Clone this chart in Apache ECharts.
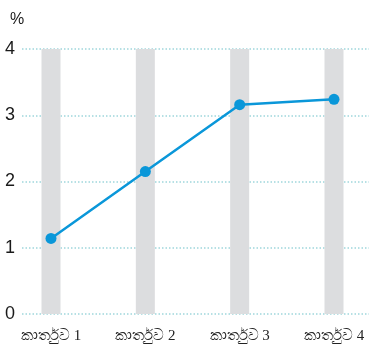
<!DOCTYPE html>
<html>
<head>
<meta charset="utf-8">
<script src="https://cdn.jsdelivr.net/npm/echarts@6/dist/echarts.min.js"></script>
<style>
  html, body { margin: 0; padding: 0; background: #fff; }
  #chart { width: 369px; height: 350px; }
</style>
</head>
<body>
<div id="chart"></div>
<script>
var categories = ['කාර්තුව 1', 'කාර්තුව 2', 'කාර්තුව 3', 'කාර්තුව 4'];
var rates = [1.14, 2.15, 3.16, 3.24];
var columnTops = [4, 4, 4, 4];
var yTicks = [0, 1, 2, 3, 4];

var myChart = echarts.init(document.getElementById('chart'));
var option = {
    backgroundColor: '#fff',
    animation: false,
    title: {
        text: '%',
        left: 5,
        top: 7,
        textStyle: { fontSize: 16, fontWeight: 'normal', color: '#1a1a1a', fontFamily: 'Liberation Sans' }
    },
    grid: [
        { left: 22, right: 0, top: 49, bottom: 36 },   // grid lines + y labels
        { left: 51, right: 35, top: 49, bottom: 36 }   // data
    ],
    xAxis: [
        { gridIndex: 0, type: 'value', show: false, min: 0, max: 1 },
        {
            gridIndex: 1,
            type: 'category',
            boundaryGap: false,
            data: categories,
            axisLine: { show: false },
            axisTick: { show: false },
            axisLabel: { color: '#222', fontSize: 15, margin: 15, fontFamily: 'serif' }
        }
    ],
    yAxis: [
        {
            gridIndex: 0,
            type: 'value',
            min: yTicks[0],
            max: yTicks[yTicks.length - 1],
            interval: 1,
            axisLine: { show: false },
            axisTick: { show: false },
            axisLabel: { color: '#1a1a1a', fontSize: 18, margin: 7, fontFamily: 'Liberation Sans' },
            splitLine: { lineStyle: { color: '#9fd6dc', type: [1.5, 2], width: 1.5 } }
        },
        { gridIndex: 1, type: 'value', min: 0, max: 4, show: false }
    ],
    series: [
        {
            type: 'bar',
            xAxisIndex: 1,
            yAxisIndex: 1,
            barWidth: 19,
            itemStyle: { color: '#dcdddf' },
            data: columnTops,
            z: 1
        },
        {
            type: 'line',
            xAxisIndex: 1,
            yAxisIndex: 1,
            symbol: 'circle',
            symbolSize: 11,
            lineStyle: { color: '#0a97d9', width: 2.5 },
            itemStyle: { color: '#0a97d9' },
            data: rates,
            z: 3
        }
    ]
};
myChart.setOption(option);
</script>
</body>
</html>
